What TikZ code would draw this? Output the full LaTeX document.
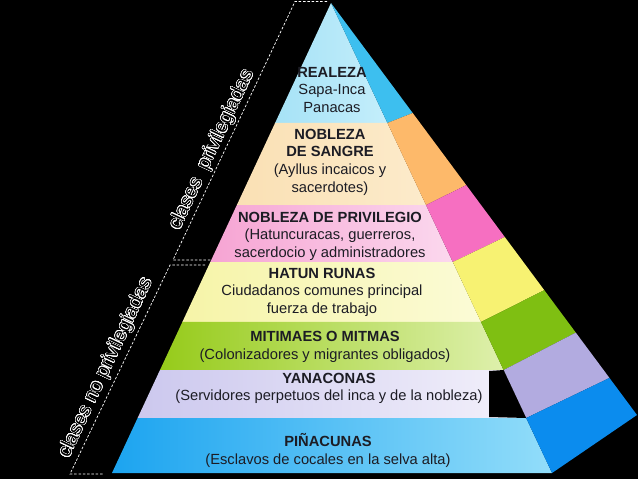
\documentclass[tikz,border=0pt]{standalone}
\usepackage{fontspec}
\setmainfont{Liberation Sans}
\usepackage{contour}
\contourlength{0.55pt}
\contournumber{24}
\usetikzlibrary{calc}
\definecolor{txt}{HTML}{1C1C24}
\definecolor{f1a}{HTML}{A6E2F6}\definecolor{f1b}{HTML}{C4EEFB}\definecolor{s1}{HTML}{3DBFEF}
\definecolor{f2a}{HTML}{FAE0B4}\definecolor{f2b}{HTML}{FCEBCB}\definecolor{s2}{HTML}{FDB96A}
\definecolor{f3a}{HTML}{F6A4D3}\definecolor{f3b}{HTML}{FBD8EE}\definecolor{s3}{HTML}{F66FC1}
\definecolor{f4a}{HTML}{F6F4A8}\definecolor{f4b}{HTML}{FBFBD6}\definecolor{s4}{HTML}{F7F272}
\definecolor{f5a}{HTML}{96CB1A}\definecolor{f5b}{HTML}{DEF0AC}\definecolor{s5}{HTML}{7FBF12}
\definecolor{f6a}{HTML}{CCC8EE}\definecolor{f6b}{HTML}{F3F1FB}\definecolor{s6}{HTML}{B2ABE0}
\definecolor{f7a}{HTML}{1CA4F0}\definecolor{f7b}{HTML}{92DDFA}\definecolor{s7}{HTML}{0B8CEE}
\begin{document}
\begin{tikzpicture}[x=1pt,y=-1pt,
  lbl/.style={font=\fontsize{14.7}{17.6}\selectfont, align=center, text=txt, inner sep=0pt},
  brk/.style={white, line width=0.7pt, dash pattern=on 2.5pt off 1.8pt},
  sidelbl/.style={rotate=64.8, font=\fontsize{19.5}{20}\selectfont, text=black, inner sep=0pt}]
\fill[black] (0,0) rectangle (638,479);
\useasboundingbox (0,0) rectangle (638,479);
\coordinate (A) at (331,3);
\coordinate (BL) at (112,473);
\coordinate (BR) at (552,473);
\coordinate (SR) at (637,415);
\foreach \i/\tf/\tr in {0/0/0, 1/.2553/.267, 2/.4298/.442, 3/.5511/.568, 4/.6787/.697, 5/.7809/.80, 6/.8830/.910, 7/1/1} {
  \coordinate (L\i) at ($(A)!\tf!(BL)$);
  \coordinate (R\i) at ($(A)!\tf!(BR)$);
  \coordinate (S\i) at ($(A)!\tr!(SR)$);
}
\foreach \i/\j in {0/1,1/2,2/3,3/4,4/5,5/6,6/7} {
  \shade[left color=f\j a, right color=f\j b] (L\i) -- (R\i) -- (R\j) -- (L\j) -- cycle;
  \fill[s\j] (R\i) -- (S\i) -- (S\j) -- (R\j) -- cycle;
}
% black notch at the right end of the YANACONAS band
\coordinate (n1) at (489,371);
\coordinate (n2) at (489,417);
\fill[black] (n1) -- (R5) -- (R6) -- (n2) -- cycle;
% labels
\node[lbl] (realeza) at (332,90) {\textbf{REALEZA}\\Sapa-Inca\\Panacas};
\node[lbl] (sangre) at (330,162) {\textbf{NOBLEZA}\\\textbf{DE SANGRE}\\(Ayllus incaicos y\\sacerdotes)};
\node[lbl] (privilegio) at (330,236) {\textbf{NOBLEZA DE PRIVILEGIO}\\(Hatuncuracas, guerreros,\\sacerdocio y administradores};
\node[lbl] (hatun) at (322,292) {\textbf{HATUN RUNAS}\\Ciudadanos comunes principal\\fuerza de trabajo};
\node[lbl] (mitimaes) at (325,347) {\textbf{MITIMAES O MITMAS}\\(Colonizadores y migrantes obligados)};
\node[lbl] (yanaconas) at (329,388.5) {\textbf{YANACONAS}\\(Servidores perpetuos del inca y de la nobleza)};
\node[lbl] (pinacunas) at (328,450.5) {\textbf{PIÑACUNAS}\\(Esclavos de cocales en la selva alta)};
% brackets
\coordinate (u1) at (327,1.5);
\coordinate (u2) at (295,1.5);
\coordinate (u3) at (173,260);
\coordinate (u4) at (212,260);
\draw[brk] (u1) -- (u2) -- (u3) -- (u4);
\coordinate (d1) at (205,265);
\coordinate (d2) at (170,265);
\coordinate (d3) at (70,474);
\coordinate (d4) at (103,474);
\draw[brk] (d1) -- (d2) -- (d3) -- (d4);
\node[sidelbl] (privt) at (212,150) {\contour{white}{clases\ \ privilegiadas}};
\node[sidelbl] (noprivt) at (106,368) {\contour{white}{clases no privilegiadas}};
\end{tikzpicture}
\end{document}
